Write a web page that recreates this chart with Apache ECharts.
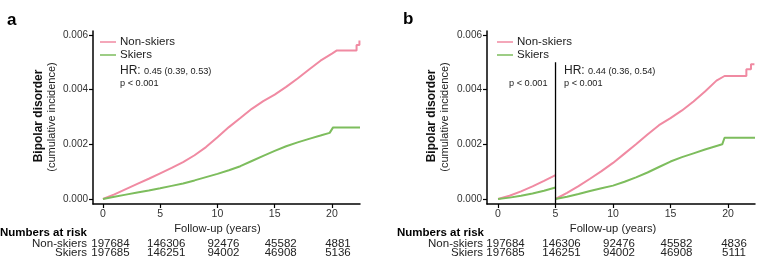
<!DOCTYPE html>
<html>
<head>
<meta charset="utf-8">
<script src="https://cdn.jsdelivr.net/npm/echarts@6/dist/echarts.min.js"></script>
<style>
  html, body { margin: 0; padding: 0; background: #fff; }
  #chart { width: 779px; height: 261px; }
</style>
</head>
<body>
<div id="chart"></div>
<script>
// ---- data ----
// panel a: whole follow-up
const aNonSkiersT = [0, 1, 2, 3, 4, 5, 6, 7, 8, 9, 10, 11, 12, 13, 14, 15, 16, 17, 18, 19, 20, 20.4, 22.15, 22.15, 22.4, 22.4, 22.45];
const aNonSkiersV = [0, 0.00017, 0.00036, 0.00055, 0.00074, 0.00094, 0.00114, 0.00135, 0.0016, 0.0019, 0.00226, 0.00263, 0.00296, 0.0033, 0.00358, 0.00382, 0.0041, 0.00441, 0.00474, 0.00506, 0.00532, 0.00543, 0.00543, 0.00563, 0.00563, 0.0058, 0.0058];
const aSkiersT = [0, 1, 2, 3, 4, 5, 6, 7, 8, 9, 10, 11, 12, 13, 14, 15, 16, 17, 18, 19, 19.8, 20.1, 22.45];
const aSkiersV = [0, 0.00008, 0.00016, 0.00024, 0.00031, 0.00039, 0.00048, 0.00057, 0.00068, 0.0008, 0.00092, 0.00105, 0.0012, 0.00139, 0.00158, 0.00176, 0.00193, 0.00207, 0.0022, 0.00232, 0.00242, 0.00262, 0.00262];

// panel b: landmark at 5 years
const bSplit = 5;
const bSplitTop = 0.005;
const bEarlyT = [0, 1, 2, 3, 4, 5];
const bEarlyNonSkiersV = [0, 0.00012, 0.00028, 0.00046, 0.00066, 0.00087];
const bEarlySkiersV = [0, 0.00005, 0.00012, 0.0002, 0.0003, 0.00042];
const bLateNonSkiersT = [5, 6, 7, 8, 9, 10, 11, 12, 13, 14, 15, 16, 17, 18, 19, 19.7, 21.6, 21.6, 22.0, 22.0, 22.3];
const bLateNonSkiersV = [0, 0.00022, 0.00047, 0.00074, 0.00102, 0.00132, 0.00166, 0.002, 0.00236, 0.0027, 0.00296, 0.00324, 0.00357, 0.00393, 0.00433, 0.0045, 0.0045, 0.00475, 0.00475, 0.00493, 0.00493];
const bLateSkiersT = [5, 6, 7, 8, 9, 10, 11, 12, 13, 14, 15, 16, 17, 18, 19, 19.5, 19.7, 22.35];
const bLateSkiersV = [0, 0.00008, 0.00018, 0.00029, 0.00039, 0.00049, 0.00063, 0.00079, 0.00097, 0.00117, 0.00137, 0.00153, 0.00167, 0.00181, 0.00194, 0.002, 0.00224, 0.00224];

const xTicks = [0, 5, 10, 15, 20];
const yTicks = [0, 0.002, 0.004, 0.006];
const riskYears = [0, 5, 10, 15, 20];
const aRiskNonSkiers = ['197684', '146306', '92476', '45582', '4881'];
const aRiskSkiers = ['197685', '146251', '94002', '46908', '5136'];
const bRiskNonSkiers = ['197684', '146306', '92476', '45582', '4836'];
const bRiskSkiers = ['197685', '146251', '94002', '46908', '5111'];

const PINK = '#f08aa2';
const GREEN = '#7dbd5d';
const FONT = "'Liberation Sans', Arial, sans-serif";

const zip = (t, v) => t.map((x, i) => [x, v[i]]);

const chart = echarts.init(document.getElementById('chart'), null, { renderer: 'canvas' });

function xAxisFor(gridIndex, min, max) {
  return {
    type: 'value', gridIndex, min, max,
    axisLine: { show: true, onZero: false, lineStyle: { color: '#000', width: 1.5 } },
    axisTick: { show: true, length: 4, customValues: xTicks, lineStyle: { color: '#000', width: 1.2 } },
    axisLabel: { customValues: xTicks, margin: 5, fontSize: 10.5, color: '#333', fontFamily: FONT },
    splitLine: { show: false }
  };
}

function yAxisFor(gridIndex) {
  return {
    type: 'value', gridIndex, min: -0.000183, max: 0.006146,
    axisLine: { show: true, onZero: false, lineStyle: { color: '#000', width: 1.5 } },
    axisTick: { show: true, length: 4, customValues: yTicks, lineStyle: { color: '#000', width: 1.2 } },
    axisLabel: {
      customValues: yTicks, margin: 5, fontSize: 10, color: '#333', fontFamily: FONT,
      formatter: v => v.toFixed(3)
    },
    splitLine: { show: false }
  };
}

function line(name, data, color, xi) {
  return {
    name, type: 'line', data, xAxisIndex: xi, yAxisIndex: xi,
    symbol: 'none', lineStyle: { color, width: 2 }, itemStyle: { color },
    z: 3
  };
}

function legendAt(left) {
  return {
    data: ['Non-skiers', 'Skiers'],
    orient: 'vertical', left, top: 35.5, padding: 0, itemGap: 0,
    icon: 'rect', itemWidth: 16, itemHeight: 1.5,
    textStyle: { fontSize: 11.5, color: '#222', fontFamily: FONT, lineHeight: 13, padding: [0, 0, 0, -1] }
  };
}

const option = {
  animation: false,
  grid: [
    { left: 93, top: 31, width: 267, height: 173 },
    { left: 487, top: 31, width: 268, height: 173 }
  ],
  xAxis: [xAxisFor(0, -0.87, 22.45), xAxisFor(1, -0.96, 22.35)],
  yAxis: [yAxisFor(0), yAxisFor(1)],
  legend: [legendAt(100), legendAt(497)],
  series: [
    line('Non-skiers', zip(aNonSkiersT, aNonSkiersV), PINK, 0),
    line('Skiers', zip(aSkiersT, aSkiersV), GREEN, 0),
    line('Non-skiers', zip(bEarlyT, bEarlyNonSkiersV), PINK, 1),
    line('Skiers', zip(bEarlyT, bEarlySkiersV), GREEN, 1),
    line('Non-skiers', zip(bLateNonSkiersT, bLateNonSkiersV), PINK, 1),
    line('Skiers', zip(bLateSkiersT, bLateSkiersV), GREEN, 1),
    {
      type: 'line', xAxisIndex: 1, yAxisIndex: 1, silent: true, symbol: 'none',
      data: [[bSplit, -0.000183], [bSplit, bSplitTop]],
      lineStyle: { color: '#000', width: 1.3 }, z: 4
    }
  ]
};
chart.setOption(option);

// text pieces placed after the axes exist
function txt(x, y, text, extra) {
  return {
    type: 'text', x, y, silent: true,
    style: Object.assign({ text, fontFamily: FONT, fontSize: 11.5, fill: '#222', textVerticalAlign: 'middle' }, extra || {})
  };
}

function hrText(x, y, hr) {
  return {
    type: 'text', x, y, silent: true,
    style: {
      text: '{a|HR: }{b|' + hr + '}',
      textVerticalAlign: 'middle',
      rich: {
        a: { fontSize: 12, fontFamily: FONT, fill: '#222' },
        b: { fontSize: 9.2, fontFamily: FONT, fill: '#222' }
      }
    }
  };
}

const graphics = [];
// panel letters
graphics.push(txt(7, 20, 'a', { fontSize: 17, fontWeight: 'bold', fill: '#000' }));
graphics.push(txt(403, 19, 'b', { fontSize: 17, fontWeight: 'bold', fill: '#000' }));

// y axis titles
[[39, 52], [432, 445]].forEach(([x1, x2]) => {
  graphics.push({
    type: 'text', x: x1, y: 116, rotation: Math.PI / 2, silent: true,
    style: { text: 'Bipolar disorder', fontFamily: FONT, fontSize: 12, fontWeight: 'bold', fill: '#111', textAlign: 'center', textVerticalAlign: 'middle' }
  });
  graphics.push({
    type: 'text', x: x2, y: 117, rotation: Math.PI / 2, silent: true,
    style: { text: '(cumulative incidence)', fontFamily: FONT, fontSize: 11, fill: '#222', textAlign: 'center', textVerticalAlign: 'middle' }
  });
});

// HR annotations
graphics.push(hrText(120, 71, '0.45 (0.39, 0.53)'));
graphics.push(txt(120, 83, 'p < 0.001', { fontSize: 9.2 }));
graphics.push(hrText(564, 71, '0.44 (0.36, 0.54)'));
graphics.push(txt(564, 83, 'p < 0.001', { fontSize: 9.2 }));
graphics.push(txt(509, 83, 'p < 0.001', { fontSize: 9.2 }));

// x axis titles and numbers at risk
[
  { xi: 0, labelX: 87, headX: 0, nonSk: aRiskNonSkiers, sk: aRiskSkiers },
  { xi: 1, labelX: 483, headX: 397, nonSk: bRiskNonSkiers, sk: bRiskSkiers }
].forEach(p => {
  const px = t => chart.convertToPixel({ xAxisIndex: p.xi }, t);
  graphics.push(txt(px(10), 229, 'Follow-up (years)', { fontSize: 11.2, textAlign: 'center' }));
  graphics.push(txt(p.headX, 233, 'Numbers at risk', { fontSize: 11.5, fontWeight: 'bold', fill: '#000' }));
  graphics.push(txt(p.labelX, 243.5, 'Non-skiers', { textAlign: 'right' }));
  graphics.push(txt(p.labelX, 253, 'Skiers', { textAlign: 'right' }));
  riskYears.forEach((t, i) => {
    const dx = i === 0 ? 7.5 : 6;
    graphics.push(txt(px(t) + dx, 243.5, p.nonSk[i], { textAlign: 'center' }));
    graphics.push(txt(px(t) + dx, 253, p.sk[i], { textAlign: 'center' }));
  });
});

chart.setOption({ graphic: graphics });
</script>
</body>
</html>
